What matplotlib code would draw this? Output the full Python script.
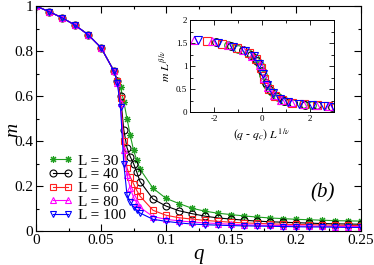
import numpy as np
import matplotlib
matplotlib.use("Agg")
import matplotlib.pyplot as plt
from matplotlib.ticker import MultipleLocator

plt.rcParams["font.family"] = ["Liberation Serif", "DejaVu Serif"]
plt.rcParams["mathtext.fontset"] = "stix"

# main panel: magnetisation m(q) for each L
q = [0, 0.01, 0.02, 0.03, 0.04, 0.05, 0.06, 0.0625, 0.065, 0.0675, 0.07,
     0.0725, 0.075, 0.0775, 0.08, 0.09, 0.10, 0.11, 0.12, 0.13, 0.14, 0.15,
     0.16, 0.17, 0.18, 0.19, 0.20, 0.21, 0.22, 0.23, 0.24, 0.25]

m30 = [1, 0.975, 0.948, 0.915, 0.873, 0.815, 0.712, 0.672, 0.64, 0.575, 0.50,
       0.425, 0.36, 0.315, 0.275, 0.19, 0.145, 0.122, 0.101, 0.088, 0.079,
       0.073, 0.067, 0.062, 0.058, 0.055, 0.052, 0.05, 0.048, 0.046, 0.045, 0.044]
m40 = [1, 0.975, 0.948, 0.915, 0.873, 0.815, 0.71, 0.667, 0.6, 0.45, 0.37,
       0.33, 0.3, 0.262, 0.22, 0.142, 0.111, 0.09, 0.077, 0.066, 0.058,
       0.053, 0.048, 0.044, 0.041, 0.039, 0.037, 0.035, 0.033, 0.032, 0.031, 0.03]
m60 = [1, 0.975, 0.948, 0.915, 0.873, 0.815, 0.71, 0.665, 0.59, 0.40, 0.28,
       0.24, 0.21, 0.18, 0.155, 0.092, 0.07, 0.059, 0.053, 0.047, 0.043,
       0.039, 0.036, 0.034, 0.032, 0.030, 0.029, 0.028, 0.027, 0.026, 0.025, 0.024]
m80 = [1, 0.975, 0.948, 0.915, 0.873, 0.815, 0.71, 0.66, 0.57, 0.36, 0.25,
       0.19, 0.15, 0.125, 0.105, 0.064, 0.052, 0.045, 0.04, 0.036, 0.033,
       0.03, 0.028, 0.026, 0.025, 0.024, 0.023, 0.022, 0.021, 0.02, 0.02, 0.019]
m100 = [1, 0.975, 0.948, 0.915, 0.873, 0.815, 0.71, 0.66, 0.55, 0.30, 0.16,
        0.13, 0.108, 0.092, 0.08, 0.052, 0.043, 0.036, 0.031, 0.028, 0.026,
        0.024, 0.023, 0.022, 0.021, 0.02, 0.019, 0.018, 0.018, 0.017, 0.016, 0.016]

# inset: scaling collapse
x30 = [-1.4, -1.0, -0.6, -0.3, -0.1, 0.05, 0.2, 0.4, 0.65, 0.95, 1.3, 1.7, 2.1]
y30 = [1.45, 1.38, 1.29, 1.18, 1.02, 0.8, 0.58, 0.44, 0.33, 0.24, 0.2, 0.17, 0.15]
x40 = [-1.9, -1.3, -0.8, -0.45, -0.2, 0.0, 0.15, 0.35, 0.6, 0.9, 1.3, 1.8, 2.3, 2.9]
y40 = [1.52, 1.43, 1.34, 1.25, 1.11, 0.9, 0.64, 0.47, 0.35, 0.25, 0.2, 0.165, 0.145, 0.12]
x60 = [-2.3, -1.65, -1.05, -0.55, -0.25, -0.05, 0.1, 0.3, 0.55, 0.85, 1.25, 1.75, 2.3, 2.75]
y60 = [1.55, 1.48, 1.39, 1.28, 1.16, 0.96, 0.72, 0.5, 0.36, 0.26, 0.2, 0.17, 0.145, 0.13]
x80 = [-2.85, -2.1, -1.4, -0.8, -0.4, -0.1, 0.08, 0.25, 0.5, 0.8, 1.2, 1.7, 2.25, 2.8]
y80 = [1.57, 1.54, 1.45, 1.34, 1.23, 1.02, 0.75, 0.54, 0.38, 0.27, 0.21, 0.17, 0.15, 0.125]
x100 = [-2.65, -1.85, -1.2, -0.7, -0.35, -0.12, 0.05, 0.2, 0.45, 0.75, 1.1, 1.55, 2.1, 2.6, 3.0]
y100 = [1.56, 1.51, 1.42, 1.32, 1.21, 1.04, 0.82, 0.58, 0.41, 0.29, 0.22, 0.18, 0.155, 0.13, 0.12]

labels = ["L = 30", "L = 40", "L = 60", "L = 80", "L = 100"]
colors = ["#1f9e1f", "black", "#ff2020", "#ff00ff", "#0000ff"]
markers = [(8, 2, 0), "o", "s", "^", "v"]

fmt = plt.FuncFormatter(lambda v, p: "%g" % round(v, 3))

fig = plt.figure(figsize=(3.74, 2.65), dpi=100)
ax = fig.add_axes([0.0963, 0.1283, 0.869, 0.849])

for mm, c, mk, lab in zip([m30, m40, m60, m80, m100], colors, markers, labels):
    ax.plot(q, mm, color=c, lw=0.8, marker=mk, ms=5, mfc="none", mec=c,
            mew=0.8, label=lab)

ax.set_xlim(0, 0.25)
ax.set_ylim(0, 1)
ax.xaxis.set_major_locator(MultipleLocator(0.05))
ax.xaxis.set_minor_locator(MultipleLocator(0.025))
ax.yaxis.set_major_locator(MultipleLocator(0.2))
ax.yaxis.set_minor_locator(MultipleLocator(0.1))
ax.xaxis.set_major_formatter(fmt)
ax.yaxis.set_major_formatter(fmt)
ax.tick_params(which="both", direction="in", top=True, right=True,
               labelsize=11, width=0.8)
ax.tick_params(which="major", length=5, pad=2)
ax.tick_params(which="minor", length=2.5)
for s in ax.spines.values():
    s.set_linewidth(0.8)
ax.set_xlabel("q", fontsize=15, style="italic", labelpad=-1)
ax.set_ylabel("m", fontsize=14, style="italic")
ax.yaxis.set_label_coords(-0.046, 0.45)

ax.legend(loc="upper left", bbox_to_anchor=(0.02, 0.37), frameon=False,
          fontsize=11, handlelength=1.6, handletextpad=0.3, labelspacing=0.0,
          borderaxespad=0.2, numpoints=2, borderpad=0.2)
ax.text(0.883, 0.169, "(b)", transform=ax.transAxes, fontsize=15,
        style="italic", ha="center", va="center")

# inset
ins = fig.add_axes([0.508, 0.577, 0.385, 0.347])
for xx, yy, c, mk in zip([x30, x40, x60, x80, x100], [y30, y40, y60, y80, y100],
                         colors, ["o", "o", "s", "^", "v"]):
    ins.plot(xx, yy, ls="none", marker=mk, ms=5.5, mfc="none", mec=c, mew=0.8)
ins.set_xlim(-3, 3)
ins.set_ylim(0, 2)
ins.xaxis.set_major_locator(MultipleLocator(2))
ins.xaxis.set_minor_locator(MultipleLocator(1))
ins.yaxis.set_major_locator(MultipleLocator(0.5))
ins.yaxis.set_minor_locator(MultipleLocator(0.25))
ins.xaxis.set_major_formatter(fmt)
ins.yaxis.set_major_formatter(fmt)
ins.tick_params(which="both", direction="in", top=True, right=True,
                labelsize=6.5, width=0.6, pad=2)
ins.tick_params(which="major", length=3.5)
ins.tick_params(which="minor", length=2)
for s in ins.spines.values():
    s.set_linewidth(0.7)
ins.set_xlabel(r"$(q$ - $q_c)\ L^{\,1/\nu}$", fontsize=8.5, labelpad=2)
ins.set_ylabel(r"$m\ L^{\,\beta/\nu}$", fontsize=8.5, labelpad=2)

fig.savefig("out.png", dpi=100)
